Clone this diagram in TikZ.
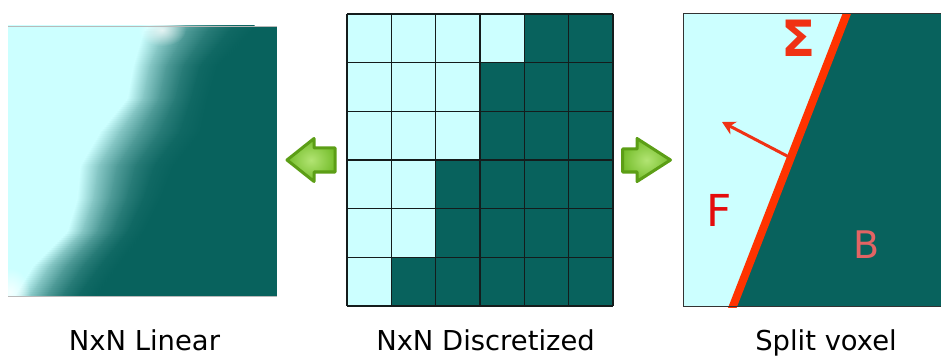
\documentclass[tikz,border=0pt]{standalone}
\usepackage{fontspec}
\setmainfont{DejaVu Sans}
\usetikzlibrary{arrows.meta,fadings}
\tikzfading[name=glowfade, inner color=transparent!0, outer color=transparent!100]
\definecolor{lc}{RGB}{204,255,255}
\definecolor{dc}{RGB}{8,98,93}
\definecolor{gridc}{RGB}{20,28,28}
\definecolor{redl}{RGB}{255,51,0}
\definecolor{sigc}{RGB}{240,50,20}
\definecolor{fc}{RGB}{228,12,12}
\definecolor{bc}{RGB}{226,100,100}
\definecolor{glight}{RGB}{178,228,115}
\definecolor{gdark}{RGB}{118,190,45}
\definecolor{gedge}{RGB}{92,158,22}
\tikzset{
  lbl/.style={font=\fontsize{27.4}{30}\selectfont, anchor=base, inner sep=0pt},
  garrow/.style={draw=gedge, line width=3pt, line join=round, shading=radial, inner color=glight, outer color=gdark},
  gridline/.style={draw=gridc, line width=1.6pt},
  letter/.style={anchor=base, inner sep=0pt},
}
\begin{document}
\begin{tikzpicture}[x=1pt,y=-1pt]
\useasboundingbox (0,0) rectangle (941,358);

% ---------- left panel: interpolated field ----------
\begin{scope}
\clip (8,26) rectangle (277,296);
\fill[dc] (8,26) rectangle (277,296);
\foreach \ya/\la/\da/\yb/\lb/\db in {26/150/255/33/143/250, 33/143/250/67/133/217, 67/133/217/100/127/207, 100/127/207/133/100/200, 133/100/200/167/80/173, 167/80/173/200/77/160, 200/77/160/233/67/143, 233/67/143/267/33/117, 267/33/117/296/15/95}{
  \pgfmathtruncatemacro\n{ceil((\yb-\ya)/2)-1}
  \foreach \j in {0,...,\n}{
    \pgfmathsetmacro\yy{\ya+2*\j}
    \pgfmathsetmacro\t{(\yy+1-\ya)/(\yb-\ya)}
    \pgfmathsetmacro\L{\la+(\lb-\la)*\t}
    \pgfmathsetmacro\D{\da+(\db-\da)*\t}
    \fill[lc] (7,\yy-0.5) rectangle (\L+0.3,\yy+2.5);
    \foreach \k/\pa/\pb in {0/100/64,1/64/36,2/36/16,3/16/4,4/4/0}{
      \pgfmathsetmacro\xa{\L+(\D-\L)*\k/5}
      \pgfmathsetmacro\xb{\L+(\D-\L)*(\k+1)/5+0.3}
      \shade[left color=lc!\pa!dc, right color=lc!\pb!dc] (\xa,\yy-0.5) rectangle (\xb,\yy+2.5);
    }
  }
}
\fill[white, opacity=0.75, path fading=glowfade] (162,30) ellipse (24 and 16);
\fill[white, opacity=0.8, path fading=glowfade] (10,292) ellipse (20 and 24);
\end{scope}
\draw[gray!55, line width=0.8pt] (8,26) -- (277,26);
\draw[gray!55, line width=0.8pt] (8,296) -- (277,296);

% ---------- middle panel: discretized grid ----------
\foreach \r/\b in {0/4,1/3,2/3,3/2,4/2,5/1}{
  \foreach \c in {0,...,5}{
    \pgfmathsetmacro\xa{347+\c*266/6}
    \pgfmathsetmacro\xb{347+(\c+1)*266/6}
    \pgfmathsetmacro\ya{14+\r*292/6}
    \pgfmathsetmacro\yb{14+(\r+1)*292/6}
    \ifnum\c<\b \def\cellc{lc}\else\def\cellc{dc}\fi
    \fill[\cellc] (\xa,\ya) rectangle (\xb,\yb);
  }
}
\foreach \i in {0,...,6}{
  \pgfmathsetmacro\xx{347+\i*266/6}
  \pgfmathsetmacro\yy{14+\i*292/6}
  \draw[gridline] (\xx,14) -- (\xx,306);
  \draw[gridline] (347,\yy) -- (613,\yy);
}

% ---------- right panel: split voxel ----------
\fill[lc] (683,13.5) rectangle (945,306);
\fill[dc] (847,13.5) -- (945,13.5) -- (945,306) -- (733,306) -- cycle;
\begin{scope}
\clip (683,13.5) rectangle (945,307);
\draw[redl, line width=8pt] (849,8) -- (730.7,312);
\end{scope}
\draw[gray!40!black, line width=1pt] (683,13.5) rectangle (945,306);
\coordinate (nstart) at (789,157);
\coordinate (ntip) at (722,122);
\draw[sigc, line width=3pt, -{Stealth[length=13pt,width=14pt,inset=4pt]}] (nstart) -- (ntip);
\node[letter, text=sigc, font=\fontsize{50}{50}\bfseries\selectfont] (sigma) at (799,56.5) {Σ};
\node[letter, text=fc, font=\fontsize{44}{44}\selectfont] (F) at (719.5,226) {F};
\node[letter, text=bc, font=\fontsize{38}{38}\selectfont] (B) at (866.5,258) {B};

% ---------- green block arrows ----------
\path[garrow] (287,160) -- (314,138.5) -- (314,148) -- (335,148) -- (335,172) -- (314,172) -- (314,181.5) -- cycle;
\path[garrow] (670.5,160) -- (637,138.5) -- (637,149) -- (622.5,149) -- (622.5,172) -- (637,172) -- (637,181.5) -- cycle;

% ---------- labels ----------
\node[lbl] (lin) at (144.5,350) {NxN Linear};
\node[lbl] (dis) at (485.5,350) {NxN Discretized};
\node[lbl] (spl) at (826,350) {Split voxel};
\end{tikzpicture}
\end{document}
